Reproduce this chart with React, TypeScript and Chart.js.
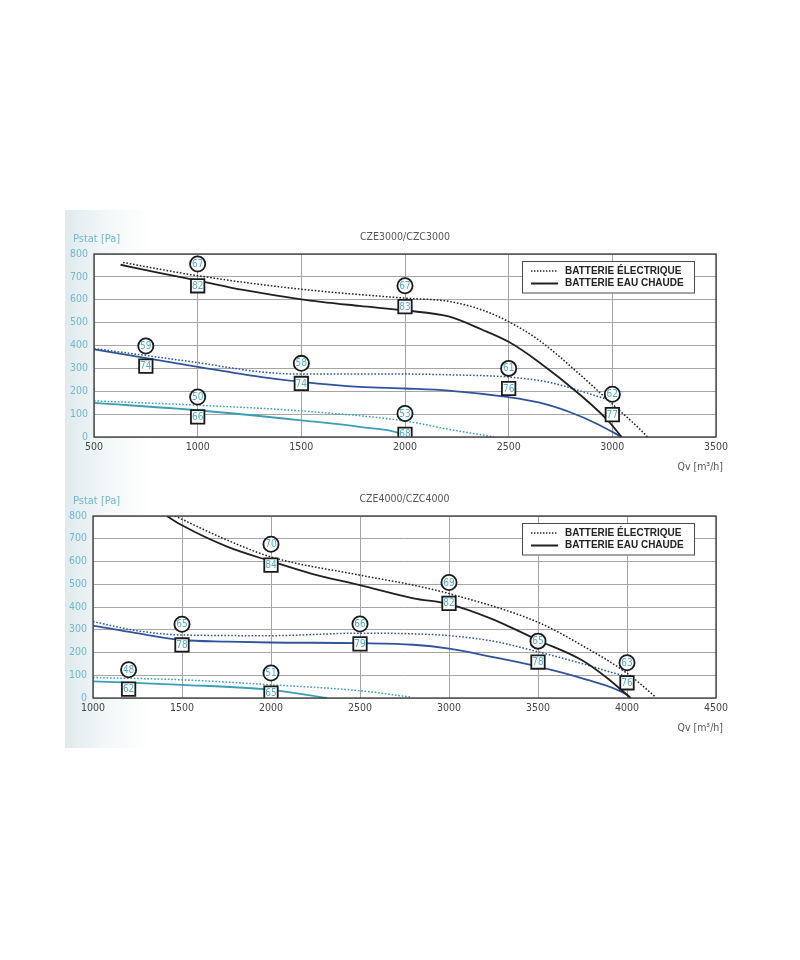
import { useEffect, useRef } from "react";
import { Chart, registerables } from "chart.js";

Chart.register(...registerables);

const NARROW = "'Liberation Sans Narrow', 'DejaVu Sans Condensed', 'Arial Narrow', sans-serif";
const SANS = "'Liberation Sans', Arial, sans-serif";

const BLACK = "#231f20";
const BLUE = "#30549c";
const TEAL = "#3a9fb4";
const LABEL_TEAL = "#56afc5";
const TICK_TEAL = "#72b6c7";

// ---- CZE3000 / CZC3000 ----
const c1ElecBlackX = [640, 1000, 1500, 2000, 2210, 2370, 2500, 2645, 2840, 3000, 3125, 3170];
const c1ElecBlackY = [763, 705, 646, 607, 593, 556, 504, 424, 276, 144, 41, 0];
const c1EauBlackX = [628, 820, 1000, 1220, 1500, 1780, 2000, 2210, 2370, 2500, 2645, 2840, 2980, 3045];
const c1EauBlackY = [753, 716, 684, 643, 602, 573, 553, 527, 470, 416, 328, 188, 71, 0];
const c1ElecBlueX = [500, 1000, 1300, 1500, 2000, 2210, 2500, 2690, 2840, 2970, 3000];
const c1ElecBlueY = [387, 325, 285, 275, 275, 272, 262, 240, 203, 166, 158];
const c1EauBlueX = [500, 1000, 1300, 1500, 1780, 2000, 2210, 2500, 2645, 2800, 2930, 3045];
const c1EauBlueY = [383, 307, 263, 241, 219, 212, 203, 174, 151, 107, 56, 0];
const c1ElecTealX = [500, 1000, 1500, 2000, 2210, 2430];
const c1ElecTealY = [158, 139, 114, 70, 34, 0];
const c1EauTealX = [500, 1000, 1500, 1780, 2000, 2010];
const c1EauTealY = [149, 117, 73, 44, 7, 0];

const c1CircleX = [1000, 2000, 750, 1500, 2500, 3000, 1000, 2000];
const c1CircleY = [756, 661, 398, 322, 300, 187, 175, 103];
const c1CircleText = ["67", "67", "59", "58", "61", "62", "50", "53"];
const c1SquareX = [1000, 2000, 750, 1500, 2500, 3000, 1000, 2000];
const c1SquareY = [661, 570, 310, 234, 212, 98, 88, 12];
const c1SquareText = ["82", "83", "74", "74", "76", "77", "66", "68"];

// ---- CZE4000 / CZC4000 ----
const c2ElecBlackX = [1460, 1757, 2000, 2500, 2800, 3000, 3500, 3745, 4000, 4160];
const c2ElecBlackY = [800, 693, 620, 540, 496, 459, 333, 232, 109, 5];
const c2EauBlackX = [1414, 1500, 1757, 2000, 2225, 2500, 2800, 3000, 3240, 3500, 3745, 3890, 4020];
const c2EauBlackY = [800, 759, 664, 601, 547, 496, 438, 413, 348, 254, 167, 87, 0];
const c2ElecBlueX = [1000, 1244, 1500, 2000, 2500, 2800, 3000, 3240, 3500, 3745, 3970, 4000];
const c2ElecBlueY = [336, 296, 277, 274, 285, 282, 274, 251, 203, 152, 101, 97];
const c2EauBlueX = [1000, 1244, 1500, 1757, 2000, 2500, 2800, 3000, 3240, 3500, 3745, 4000, 4020];
const c2EauBlueY = [318, 285, 255, 248, 244, 241, 234, 217, 181, 138, 87, 14, 0];
const c2ElecTealX = [1000, 1500, 2000, 2500, 2785];
const c2ElecTealY = [90, 80, 58, 32, 4];
const c2EauTealX = [1000, 1500, 2000, 2316];
const c2EauTealY = [73, 58, 36, 0];

const c2CircleX = [1200, 1500, 2000, 2000, 2500, 3000, 3500, 4000];
const c2CircleY = [124, 324, 676, 110, 325, 508, 250, 155];
const c2CircleText = ["48", "65", "70", "51", "66", "69", "65", "63"];
const c2SquareX = [1200, 1500, 2000, 2000, 2500, 3000, 3500, 4000];
const c2SquareY = [39, 233, 584, 22, 238, 416, 158, 67];
const c2SquareText = ["62", "78", "84", "65", "79", "82", "78", "76"];

const legendLabels = ["BATTERIE ÉLECTRIQUE", "BATTERIE EAU CHAUDE"];

const zip = (xs: number[], ys: number[]) => xs.map((x, i) => ({ x, y: ys[i] }));

type Series = { x: number[]; y: number[]; color: string; dotted: boolean };
type Marks = { x: number[]; y: number[]; text: string[] };

interface PanelProps {
  top: number;
  height: number;
  area: { left: number; right: number; top: number; bottom: number };
  title: string;
  xMin: number;
  xMax: number;
  series: Series[];
  circles: Marks;
  squares: Marks;
}

const Panel = ({ top, height, area, title, xMin, xMax, series, circles, squares }: PanelProps) => {
  const canvasRef = useRef<HTMLCanvasElement>(null);

  useEffect(() => {
    if (!canvasRef.current) return;
    const ctx = canvasRef.current.getContext("2d");
    if (!ctx) return;

    const lineSets = series.map((s) => ({
      type: "line" as const,
      data: zip(s.x, s.y),
      borderColor: s.color,
      borderWidth: s.dotted ? 1.5 : 1.8,
      borderDash: s.dotted ? [1.6, 1.8] : [],
      pointRadius: 0,
      cubicInterpolationMode: "monotone" as const,
      fill: false,
      order: 2,
    }));

    const markSet = (m: Marks, style: string, r: number) => ({
      type: "scatter" as const,
      data: zip(m.x, m.y),
      texts: m.text,
      pointStyle: style,
      pointRadius: r,
      pointBackgroundColor: "#ffffff",
      pointBorderColor: "#1a1a1a",
      pointBorderWidth: 1.8,
      showLine: false,
      order: 0,
    });

    const decor = {
      id: "decor",
      beforeDraw(chart: any) {
        const { ctx: c, chartArea: a } = chart;
        c.save();
        c.fillStyle = "#ffffff";
        c.fillRect(a.left, a.top, a.right - a.left, a.bottom - a.top);
        c.restore();
      },
      afterDatasetsDraw(chart: any) {
        const c = chart.ctx;
        c.save();
        c.font = `10px ${NARROW}`;
        c.fillStyle = LABEL_TEAL;
        c.textAlign = "center";
        c.textBaseline = "middle";
        chart.data.datasets.forEach((ds: any, i: number) => {
          if (!ds.texts) return;
          chart.getDatasetMeta(i).data.forEach((el: any, j: number) => {
            c.fillText(ds.texts[j], el.x, el.y + 0.5);
          });
        });
        c.restore();
      },
      afterDraw(chart: any) {
        const { ctx: c, chartArea: a } = chart;
        c.save();
        // frame
        c.strokeStyle = "#3a3a3a";
        c.lineWidth = 1.3;
        c.strokeRect(a.left, a.top, a.right - a.left, a.bottom - a.top);

        // titles
        c.font = `11px ${NARROW}`;
        c.fillStyle = TICK_TEAL;
        c.textAlign = "left";
        c.textBaseline = "middle";
        c.fillText("Pstat [Pa]", 73, a.top - 14.5);

        c.font = `10.5px ${NARROW}`;
        c.fillStyle = "#555555";
        c.textAlign = "center";
        c.fillText(title, (a.left + a.right) / 2, a.top - 17);

        c.textAlign = "right";
        c.fillText("Qv [m³/h]", a.right + 7, a.bottom + 30);

        // legend box
        const bx = 522;
        const by = a.top + 7;
        c.fillStyle = "#ffffff";
        c.fillRect(bx, by, 173, 32.5);
        c.strokeStyle = "#4a4a4a";
        c.lineWidth = 1;
        c.strokeRect(bx + 0.5, by + 0.5, 172, 31.5);

        c.strokeStyle = BLACK;
        c.lineWidth = 1.3;
        c.setLineDash([1.4, 1.6]);
        c.beginPath();
        c.moveTo(531, by + 10);
        c.lineTo(558, by + 10);
        c.stroke();
        c.setLineDash([]);
        c.lineWidth = 2;
        c.beginPath();
        c.moveTo(531, by + 22.5);
        c.lineTo(558, by + 22.5);
        c.stroke();

        c.fillStyle = "#222222";
        c.textAlign = "left";
        c.font = `bold 10px ${SANS}`;
        c.fillText(legendLabels[0], 565, by + 10);
        c.fillText(legendLabels[1], 565, by + 22.5);
        c.restore();
      },
    };

    const chart = new Chart(ctx, {
      type: "line",
      data: {
        datasets: [
          markSet(circles, "circle", 7.6),
          markSet(squares, "rect", 9.5),
          ...lineSets,
        ] as any,
      },
      options: {
        animation: false,
        responsive: false,
        maintainAspectRatio: false,
        layout: {
          padding: { left: 0, right: 800 - area.right, top: area.top - top, bottom: 0 },
        },
        plugins: {
          legend: { display: false },
          tooltip: { enabled: false },
        },
        scales: {
          x: {
            type: "linear",
            min: xMin,
            max: xMax,
            ticks: {
              stepSize: 500,
              color: "#444444",
              font: { family: NARROW, size: 10.5 },
              padding: 4,
              maxRotation: 0,
              callback: (v: any) => String(v),
            },
            grid: { color: "#a5a5a5", lineWidth: 1, drawTicks: false },
            border: { display: false },
            afterFit: (s: any) => {
              s.height = top + height - area.bottom;
            },
          },
          y: {
            type: "linear",
            min: 0,
            max: 800,
            ticks: {
              stepSize: 100,
              color: TICK_TEAL,
              font: { family: NARROW, size: 10.5 },
              padding: 6,
              callback: (v: any) => String(v),
            },
            grid: { color: "#a5a5a5", lineWidth: 1, drawTicks: false },
            border: { display: false },
            afterFit: (s: any) => {
              s.width = area.left;
            },
          },
        },
      },
      plugins: [decor],
    });

    return () => {
      chart.destroy();
    };
  }, [top, height, area, title, xMin, xMax, series, circles, squares]);

  return (
    <canvas
      ref={canvasRef}
      width={800}
      height={height}
      style={{ position: "absolute", left: 0, top, width: 800, height }}
    />
  );
};

const chart1Series: Series[] = [
  { x: c1ElecBlackX, y: c1ElecBlackY, color: BLACK, dotted: true },
  { x: c1EauBlackX, y: c1EauBlackY, color: BLACK, dotted: false },
  { x: c1ElecBlueX, y: c1ElecBlueY, color: BLUE, dotted: true },
  { x: c1EauBlueX, y: c1EauBlueY, color: BLUE, dotted: false },
  { x: c1ElecTealX, y: c1ElecTealY, color: TEAL, dotted: true },
  { x: c1EauTealX, y: c1EauTealY, color: TEAL, dotted: false },
];
const chart2Series: Series[] = [
  { x: c2ElecBlackX, y: c2ElecBlackY, color: BLACK, dotted: true },
  { x: c2EauBlackX, y: c2EauBlackY, color: BLACK, dotted: false },
  { x: c2ElecBlueX, y: c2ElecBlueY, color: BLUE, dotted: true },
  { x: c2EauBlueX, y: c2EauBlueY, color: BLUE, dotted: false },
  { x: c2ElecTealX, y: c2ElecTealY, color: TEAL, dotted: true },
  { x: c2EauTealX, y: c2EauTealY, color: TEAL, dotted: false },
];
const area1 = { left: 94, right: 716, top: 254, bottom: 437 };
const area2 = { left: 93, right: 716, top: 516, bottom: 698 };
const circles1 = { x: c1CircleX, y: c1CircleY, text: c1CircleText };
const squares1 = { x: c1SquareX, y: c1SquareY, text: c1SquareText };
const circles2 = { x: c2CircleX, y: c2CircleY, text: c2CircleText };
const squares2 = { x: c2SquareX, y: c2SquareY, text: c2SquareText };

export default function App() {
  return (
    <div
      style={{
        position: "absolute",
        left: 0,
        top: 0,
        width: 800,
        height: 960,
        background: "#ffffff",
        overflow: "hidden",
      }}
    >
      <div
        style={{
          position: "absolute",
          left: 65,
          top: 210,
          width: 735,
          height: 538,
          background: "linear-gradient(to right, #dfeaee 0px, #f2f7f8 40px, #ffffff 85px)",
        }}
      />
      <Panel
        top={200}
        height={290}
        area={area1}
        title="CZE3000/CZC3000"
        xMin={500}
        xMax={3500}
        series={chart1Series}
        circles={circles1}
        squares={squares1}
      />
      <Panel
        top={460}
        height={290}
        area={area2}
        title="CZE4000/CZC4000"
        xMin={1000}
        xMax={4500}
        series={chart2Series}
        circles={circles2}
        squares={squares2}
      />
    </div>
  );
}
